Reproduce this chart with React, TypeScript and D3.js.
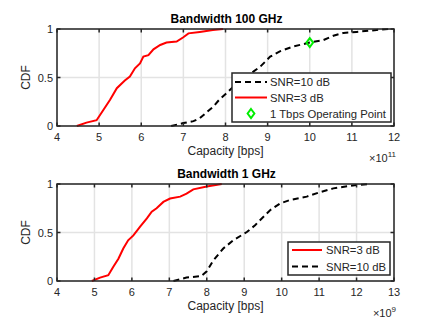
import React from "react";
import * as d3 from "d3";

// Top panel (Bandwidth 100 GHz), x in units of 1e11 bps
const topSnr3X = [4.47, 4.70, 4.94, 5.10, 5.26, 5.42, 5.61, 5.73, 5.85, 5.97, 6.05, 6.17, 6.29, 6.45, 6.60, 6.84, 7.00, 7.12, 7.39, 7.70, 7.94];
const topSnr3Y = [0, 0.035, 0.06, 0.165, 0.27, 0.39, 0.47, 0.51, 0.595, 0.645, 0.715, 0.73, 0.79, 0.835, 0.86, 0.87, 0.915, 0.955, 0.97, 0.99, 1];
const topSnr10X = [6.71, 7.0, 7.24, 7.39, 7.55, 7.71, 7.85, 8.03, 8.34, 8.66, 8.82, 9.06, 9.29, 9.61, 10.0, 10.32, 10.56, 10.8, 11.11, 11.59, 11.9];
const topSnr10Y = [0, 0.03, 0.05, 0.08, 0.14, 0.2, 0.27, 0.34, 0.47, 0.56, 0.61, 0.715, 0.77, 0.82, 0.86, 0.885, 0.93, 0.96, 0.97, 0.99, 1];
const opPointX = [10.0];
const opPointY = [0.86];

// Bottom panel (Bandwidth 1 GHz), x in units of 1e9 bps
const botSnr3X = [4.93, 5.15, 5.37, 5.5, 5.64, 5.77, 5.9, 6.04, 6.22, 6.4, 6.53, 6.66, 6.84, 7.02, 7.29, 7.46, 7.64, 8.0, 8.4];
const botSnr3Y = [0, 0.035, 0.06, 0.145, 0.23, 0.335, 0.42, 0.47, 0.56, 0.645, 0.715, 0.75, 0.815, 0.85, 0.87, 0.9, 0.945, 0.975, 1];
const botSnr10X = [7.11, 7.46, 7.85, 8.0, 8.17, 8.44, 8.71, 9.07, 9.29, 9.69, 9.96, 10.22, 10.67, 10.98, 11.38, 12.0, 12.36];
const botSnr10Y = [0, 0.035, 0.05, 0.1, 0.21, 0.335, 0.42, 0.505, 0.575, 0.73, 0.8, 0.835, 0.87, 0.91, 0.955, 0.99, 1];

const topXTicks = [4, 5, 6, 7, 8, 9, 10, 11, 12];
const botXTicks = [4, 5, 6, 7, 8, 9, 10, 11, 12, 13];
const yTicks = [0, 0.5, 1];
const yTickLabels = ["0", "0.5", "1"];

const FONT = "Liberation Sans, Arial, Helvetica, sans-serif";
const TXT = "#262626";
const GRID = "#e3e3e3";

type LegendItem = { label: string; kind: "dash" | "red" | "diamond" };

function Panel(props: {
  top: number; bottom: number; left: number; right: number;
  xDomain: [number, number]; xTicks: number[];
  title: string; exponent: string;
  series: { xs: number[]; ys: number[]; color: string; dash?: string }[];
  points?: { xs: number[]; ys: number[] };
  legend: { x0: number; y0: number; x1: number; y1: number; items: LegendItem[]; rowYs: number[]; lineX0: number; lineX1: number; textX: number };
}) {
  const { top, bottom, left, right } = props;
  const x = d3.scaleLinear().domain(props.xDomain).range([left, right]);
  const y = d3.scaleLinear().domain([0, 1]).range([bottom, top]);
  const line = d3.line<[number, number]>().x(d => x(d[0])).y(d => y(d[1]));
  const L = props.legend;
  const diamond = (cx: number, cy: number, r: number) =>
    `M${cx},${cy - r}L${cx + r * 0.75},${cy}L${cx},${cy + r}L${cx - r * 0.75},${cy}Z`;
  return (
    <g>
      {props.xTicks.map(t => (
        <line key={"gx" + t} x1={x(t)} x2={x(t)} y1={top} y2={bottom} stroke={GRID} strokeWidth={1.5} />
      ))}
      {yTicks.map(t => (
        <line key={"gy" + t} x1={left} x2={right} y1={y(t)} y2={y(t)} stroke={GRID} strokeWidth={1.5} />
      ))}
      {props.series.map((s, i) => (
        <path key={i} d={line(s.xs.map((v, j) => [v, s.ys[j]]) as [number, number][]) || ""}
          fill="none" stroke={s.color} strokeWidth={2} strokeDasharray={s.dash} />
      ))}
      {props.points && props.points.xs.map((v, i) => (
        <path key={"p" + i} d={diamond(x(v), y(props.points!.ys[i]), 4.5)} fill="none" stroke="#00ee00" strokeWidth={2} />
      ))}
      <rect x={left} y={top} width={right - left} height={bottom - top} fill="none" stroke={TXT} strokeWidth={1.5} />
      {props.xTicks.map(t => (
        <g key={"tx" + t}>
          <line x1={x(t)} x2={x(t)} y1={bottom} y2={bottom - 3.5} stroke={TXT} strokeWidth={1.5} />
          <line x1={x(t)} x2={x(t)} y1={top} y2={top + 3.5} stroke={TXT} strokeWidth={1.5} />
          <text x={x(t)} y={bottom + 15} textAnchor="middle" fontSize={11} fill={TXT} fontFamily={FONT}>{t}</text>
        </g>
      ))}
      {yTicks.map((t, i) => (
        <g key={"ty" + t}>
          <line x1={left} x2={left + 3.5} y1={y(t)} y2={y(t)} stroke={TXT} strokeWidth={1.5} />
          <line x1={right} x2={right - 3.5} y1={y(t)} y2={y(t)} stroke={TXT} strokeWidth={1.5} />
          <text x={left - 4} y={y(t) + 4} textAnchor="end" fontSize={11} fill={TXT} fontFamily={FONT}>{yTickLabels[i]}</text>
        </g>
      ))}
      <text x={(left + right) / 2 + 1} y={top - 6} textAnchor="middle" fontSize={12} fontWeight="bold" fill="#000" fontFamily={FONT}>{props.title}</text>
      <text x={(left + right) / 2} y={bottom + 29} textAnchor="middle" fontSize={12} fill={TXT} fontFamily={FONT}>Capacity [bps]</text>
      <text transform={`translate(${30},${(top + bottom) / 2}) rotate(-90)`} textAnchor="middle" fontSize={12} fill={TXT} fontFamily={FONT}>CDF</text>
      <text x={right + 2} y={bottom + 36} textAnchor="end" fontSize={11} fill={TXT} fontFamily={FONT}>
        ×10<tspan dy={-5} fontSize={8}>{props.exponent}</tspan>
      </text>
      <rect x={L.x0} y={L.y0} width={L.x1 - L.x0} height={L.y1 - L.y0} fill="#fff" stroke={TXT} strokeWidth={1.5} />
      {L.items.map((it, i) => (
        <g key={"l" + i}>
          {it.kind === "dash" && <line x1={L.lineX0} x2={L.lineX1} y1={L.rowYs[i]} y2={L.rowYs[i]} stroke="#000" strokeWidth={2} strokeDasharray="6,4" />}
          {it.kind === "red" && <line x1={L.lineX0} x2={L.lineX1} y1={L.rowYs[i]} y2={L.rowYs[i]} stroke="#ff0000" strokeWidth={2} />}
          {it.kind === "diamond" && <path d={diamond((L.lineX0 + L.lineX1) / 2, L.rowYs[i], 4.5)} fill="none" stroke="#00ee00" strokeWidth={2} />}
          <text x={L.textX} y={L.rowYs[i] + 4} fontSize={11.3} fill={TXT} fontFamily={FONT}>{it.label}</text>
        </g>
      ))}
    </g>
  );
}

export default function App() {
  return (
    <svg width={436} height={327} style={{ position: "absolute", left: 0, top: 0, background: "#fff" }}>
      <rect x={0} y={0} width={436} height={327} fill="#fff" />
      <Panel top={29} bottom={126} left={57} right={394} xDomain={[4, 12]} xTicks={topXTicks}
        title="Bandwidth 100 GHz" exponent="11"
        series={[
          { xs: topSnr3X, ys: topSnr3Y, color: "#ff0000" },
          { xs: topSnr10X, ys: topSnr10Y, color: "#000", dash: "6,4" },
        ]}
        points={{ xs: opPointX, ys: opPointY }}
        legend={{ x0: 232, y0: 73, x1: 391, y1: 122, rowYs: [82, 97.5, 113.5], lineX0: 235, lineX1: 267, textX: 270,
          items: [{ label: "SNR=10 dB", kind: "dash" }, { label: "SNR=3 dB", kind: "red" }, { label: "1 Tbps Operating Point", kind: "diamond" }] }}
      />
      <Panel top={184} bottom={281} left={57} right={394} xDomain={[4, 13]} xTicks={botXTicks}
        title="Bandwidth 1 GHz" exponent="9"
        series={[
          { xs: botSnr3X, ys: botSnr3Y, color: "#ff0000" },
          { xs: botSnr10X, ys: botSnr10Y, color: "#000", dash: "6,4" },
        ]}
        legend={{ x0: 288, y0: 242, x1: 390, y1: 275, rowYs: [250, 266.5], lineX0: 292, lineX1: 322, textX: 326,
          items: [{ label: "SNR=3 dB", kind: "red" }, { label: "SNR=10 dB", kind: "dash" }] }}
      />
    </svg>
  );
}
